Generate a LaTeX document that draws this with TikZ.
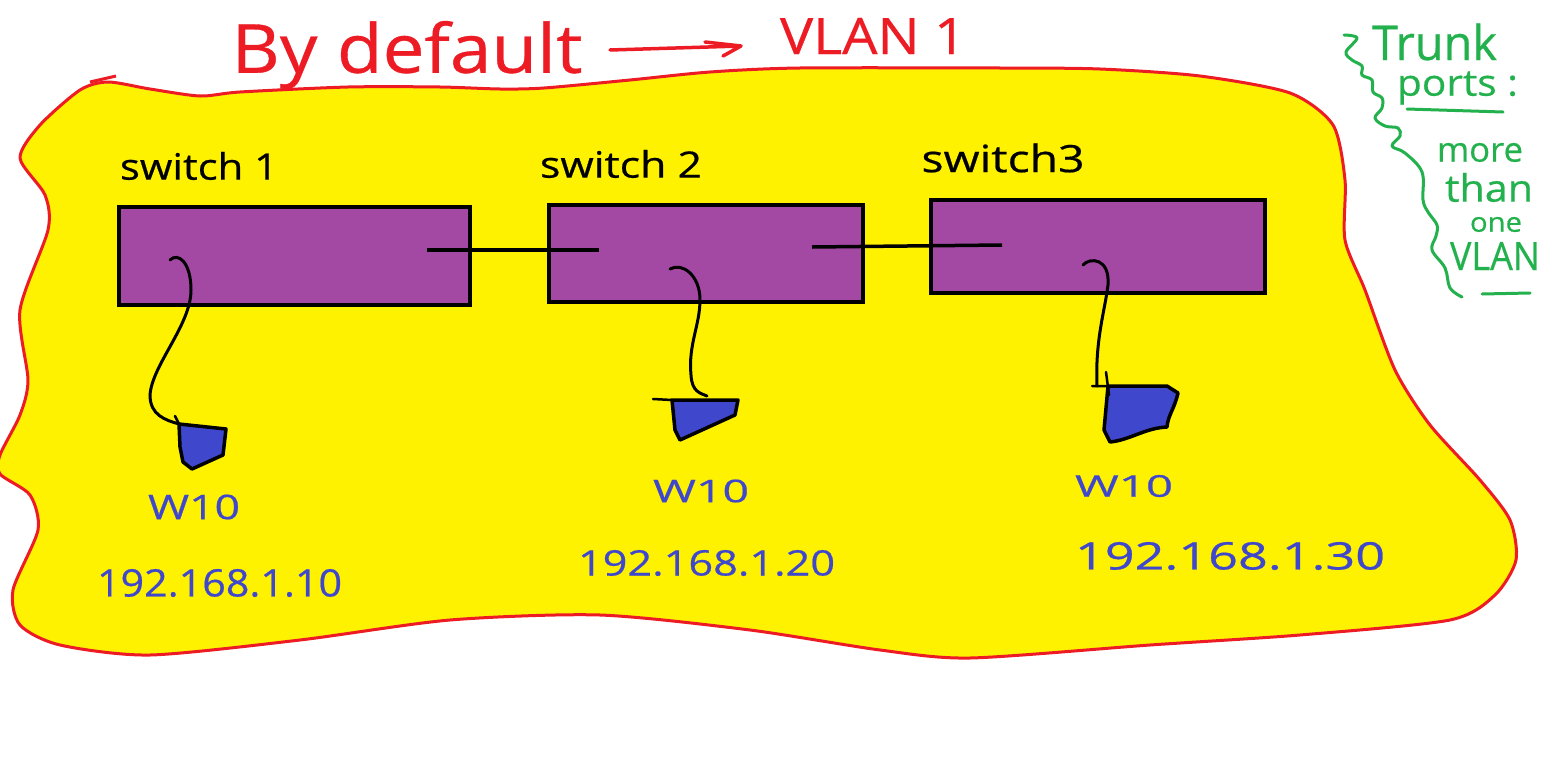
\documentclass[tikz,border=0pt]{standalone}
\usepackage{graphicx}
\usepackage{fontspec}
\setmainfont[FakeBold=0.5]{Open Sans}
\definecolor{blobyellow}{HTML}{FFF200}
\definecolor{inkred}{HTML}{ED1C24}
\definecolor{boxpurple}{HTML}{A349A4}
\definecolor{inkblue}{HTML}{3F48CC}
\definecolor{inkgreen}{HTML}{22B14C}
\newcommand{\hw}[3]{\resizebox*{#1pt}{#2pt}{#3}}
\tikzset{
  hand/.style={inner sep=0pt,outer sep=0pt},
  redtext/.style={hand,text=inkred},
  bluetext/.style={hand,text=inkblue},
  greentext/.style={hand,text=inkgreen},
  blacktext/.style={hand,text=black},
  switchbox/.style={draw=black,fill=boxpurple,line width=4pt,inner sep=0pt},
  trunkline/.style={draw=black,line width=3.5pt},
  patch/.style={draw=black,line width=3pt,line cap=round},
  pc/.style={draw=black,fill=inkblue,line width=3.5pt,line join=round},
  pctick/.style={draw=black,line width=2.5pt,line cap=round},
  greenpen/.style={draw=inkgreen,line width=3pt,line cap=round,line join=round},
  redpen/.style={draw=inkred,line width=3.5pt,line cap=round,line join=round}
}
\begin{document}
\begin{tikzpicture}[x=1pt,y=-1pt]
\useasboundingbox (0,0) rectangle (1550,771);
% yellow region
\filldraw[fill=blobyellow,draw=inkred,line width=3pt,line join=round]
  plot[smooth cycle,tension=0.45] coordinates {
  (108,82) (150,89) (200,96) (240,92) (348,87) (440,87) (500,89) (544,88) (630,80) (710,72)
  (800,68) (1000,68) (1100,69) (1200,76) (1290,93) (1333,125) (1345,180) (1345,240)
  (1365,290) (1395,370) (1430,425) (1480,480) (1510,520) (1516,560) (1495,595)
  (1450,620) (1300,635) (1150,645) (970,658) (880,650) (750,630) (600,615) (450,620)
  (300,640) (150,655) (60,645) (20,625) (13,590) (38,530) (30,495) (0,474) (0,455)
  (20,415) (28,380) (20,310) (48,230) (45,195) (20,158) (40,125) (80,90)};
\draw[inkred,line width=3pt] (90,82) -- (116,76);
% title
\node[redtext] (title) at (407,55) {\hw{351}{68}{By default}};
\node[redtext] (vlanone) at (873,36) {\hw{186}{36}{VLAN 1}};
\coordinate (arrowstart) at (610,50);
\coordinate (arrowend) at (741,46);
\draw[redpen] (arrowstart) -- (arrowend) (705,42) -- (arrowend) -- (723,56);
% switches
\node[switchbox,minimum width=351pt,minimum height=98pt] (sw1) at (294.5,256) {};
\node[switchbox,minimum width=314pt,minimum height=97pt] (sw2) at (706,253) {};
\node[switchbox,minimum width=334pt,minimum height=93pt] (sw3) at (1098,246) {};
\node[blacktext] (lab1) at (199,166) {\hw{158}{28}{switch 1}};
\node[blacktext] (lab2) at (621,164) {\hw{162}{28}{switch 2}};
\node[blacktext] (lab3) at (1003,158) {\hw{163}{29}{switch3}};
% links between switches
\coordinate (l1a) at (427,250); \coordinate (l1b) at (599,250);
\coordinate (l2a) at (812,247); \coordinate (l2b) at (1002,245);
\draw[trunkline] (l1a) -- (l1b);
\draw[trunkline] (l2a) -- (l2b);
% computers
\coordinate (pc1top) at (179,424);
\coordinate (pc2top) at (707,396);
\coordinate (pc3top) at (1097,386);
\filldraw[pc] (179,424) -- (226,429) -- (223,455) -- (192,469) -- (183,462) -- (180,447) -- cycle;
\filldraw[pc] (672,400) -- (738,400) -- (735,415) -- (680,440) -- (675,430) -- cycle;
\filldraw[pc] (1108,386) -- (1167,386) -- (1178,393) .. controls (1174,410) and (1168,415) .. (1167,427) .. controls (1145,428) and (1130,440) .. (1110,442) -- (1104,430) -- cycle;
\draw[pctick] (175,416) -- (179,424);
\draw[pctick] (653,399) -- (672,400);
\draw[pctick] (1092,386) -- (1108,386) (1106,372) -- (1109,395);
% patch cables
\coordinate (p1) at (170,260);
\coordinate (p2) at (670,269);
\coordinate (p3) at (1083,265);
\draw[patch] (p1) .. controls (178,252) and (191,262) .. (191,290) .. controls (191,325) and (152,365) .. (150,395) .. controls (150,415) and (165,420) .. (pc1top);
\draw[patch] (p2) .. controls (682,262) and (700,275) .. (700,300) .. controls (700,325) and (688,345) .. (691,375) .. controls (692,392) and (700,393) .. (pc2top);
\draw[patch] (p3) .. controls (1090,257) and (1110,258) .. (1108,285) .. controls (1105,310) and (1095,340) .. (pc3top);
% w10 labels
\node[bluetext] (w1) at (194,507) {\hw{92}{25}{W10}};
\node[bluetext] (w2) at (701,491) {\hw{96}{23}{W10}};
\node[bluetext] (w3) at (1124,486) {\hw{98}{22}{W10}};
\node[bluetext] (ip1) at (219.5,583) {\hw{245}{28}{192.168.1.10}};
\node[bluetext] (ip2) at (706.5,563) {\hw{257}{26}{192.168.1.20}};
\node[bluetext] (ip3) at (1230,556) {\hw{310}{28}{192.168.1.30}};
% trunk note
\node[greentext] (trunk) at (1434.5,42) {\hw{125}{37}{Trunk}};
\node[greentext] (ports) at (1457.5,88) {\hw{121}{33}{ports :}};
\node[greentext] (more) at (1480,152.5) {\hw{86}{19}{more}};
\node[greentext] (than) at (1489,187.5) {\hw{88}{29}{than}};
\node[greentext] (one) at (1496,224.5) {\hw{52}{15}{one}};
\node[greentext] (vlan) at (1495,256) {\hw{90}{28}{VLAN}};
\coordinate (u1a) at (1407,109); \coordinate (u1b) at (1503,112);
\coordinate (u2a) at (1482,294); \coordinate (u2b) at (1530,293);
\draw[greenpen] (u1a) -- (u1b);
\draw[greenpen] (u2a) -- (u2b);
\coordinate (sq1) at (1344,35); \coordinate (sq2) at (1462,297);
\draw[greenpen] plot[smooth,tension=0.6] coordinates {(sq1) (1357,38) (1346,52) (1352,60) (1362,66) (1362,75) (1372,80) (1373,92) (1382,98) (1382,108) (1375,118) (1385,126) (1398,128) (1400,136) (1392,146) (1405,153) (1422,172) (1423,200) (1428,212) (1437,225) (1436,236) (1432,250) (1445,268) (1450,288) (sq2)};
\end{tikzpicture}
\end{document}
